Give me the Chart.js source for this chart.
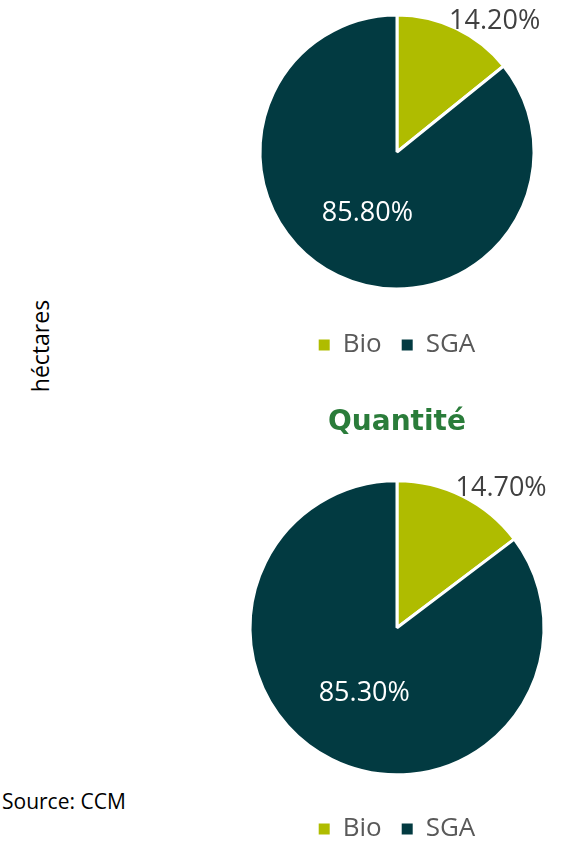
<!DOCTYPE html>
<html>
<head>
<meta charset="utf-8">
<script src="https://cdn.jsdelivr.net/npm/chart.js@4"></script>
<style>
    html, body { margin: 0; padding: 0; background: #fff; overflow: hidden; }
    body { width: 577px; height: 843px; position: relative; font-family: "Open Sans", sans-serif; }
    .box { position: absolute; }
    #c1wrap { left: 217px; top: -8px; width: 360px; height: 376px; }
    #c2wrap { left: 217px; top: 390px; width: 360px; height: 462px; }
    #yTitle { position: absolute; left: 40px; top: 346px; transform: translate(-50%, -50%) rotate(-90deg);
        font-size: 23px; color: #000; white-space: nowrap; }
    #source { position: absolute; left: 2px; top: 787px; font-size: 21px; color: #000; }
</style>
</head>
<body>
<div id="yTitle">héctares</div>
<div class="box" id="c1wrap"><canvas id="pie1"></canvas></div>
<div class="box" id="c2wrap"><canvas id="pie2"></canvas></div>
<div id="source">Source: CCM</div>
<script>
// categories
const categories = ["Bio", "SGA"];
const colors = ["#afbc00", "#023a41"];

// surface (héctares) en %
const surfaceValues = [14.2, 85.8];
// quantité en %
const quantiteValues = [14.7, 85.3];

const titreQuantite = "Quantité";

// etiquettes de pourcentage sur les parts
const pctLabels = {
    id: "pctLabels",
    afterDatasetsDraw(chart) {
        const ctx = chart.ctx;
        const meta = chart.getDatasetMeta(0);
        const values = chart.data.datasets[0].data;
        ctx.save();
        ctx.font = "27px 'Open Sans', sans-serif";
        meta.data.forEach((arc, i) => {
            const p = arc.getProps(["x", "y", "startAngle", "endAngle", "outerRadius"], true);
            const mid = (p.startAngle + p.endAngle) / 2;
            const txt = values[i].toFixed(2) + "%";
            if (values[i] < 50) {
                // petite part : etiquette a l'exterieur
                const ex = p.x + Math.cos(mid) * p.outerRadius;
                const ey = p.y + Math.sin(mid) * p.outerRadius;
                ctx.fillStyle = "#404040";
                ctx.textAlign = "left";
                ctx.textBaseline = "bottom";
                ctx.fillText(txt, ex - 7, ey + 6);
            } else {
                const r = p.outerRadius * 0.5;
                ctx.fillStyle = "#ffffff";
                ctx.textAlign = "center";
                ctx.textBaseline = "middle";
                ctx.fillText(txt, p.x + Math.cos(mid) * r, p.y + Math.sin(mid) * r);
            }
        });
        ctx.restore();
    }
};

function makePie(id, values, radius, title) {
    return new Chart(document.getElementById(id), {
        type: "pie",
        data: {
            labels: categories,
            datasets: [{
                data: values,
                backgroundColor: colors,
                borderColor: "#ffffff",
                borderWidth: 3,
                radius: radius
            }]
        },
        options: {
            responsive: true,
            maintainAspectRatio: false,
            animation: false,
            layout: { padding: 0 },
            plugins: {
                tooltip: { enabled: false },
                title: {
                    display: !!title,
                    text: title,
                    color: "#2a7c3a",
                    font: { family: "'DejaVu Sans', sans-serif", size: 28, weight: "bold" },
                    padding: { top: 16, bottom: 20 }
                },
                legend: {
                    position: "bottom",
                    labels: {
                        color: "#595959",
                        font: { family: "'Open Sans', sans-serif", size: 26 },
                        boxWidth: 11,
                        boxHeight: 11,
                        padding: 20,
                        generateLabels: (chart) => categories.map((c, i) => ({
                            text: c,
                            fillStyle: colors[i],
                            strokeStyle: colors[i],
                            lineWidth: 0,
                            fontColor: "#595959",
                            index: i
                        }))
                    }
                }
            }
        },
        plugins: [pctLabels]
    });
}

makePie("pie1", surfaceValues, 137, null);
makePie("pie2", quantiteValues, 147, titreQuantite);
</script>
</body>
</html>
